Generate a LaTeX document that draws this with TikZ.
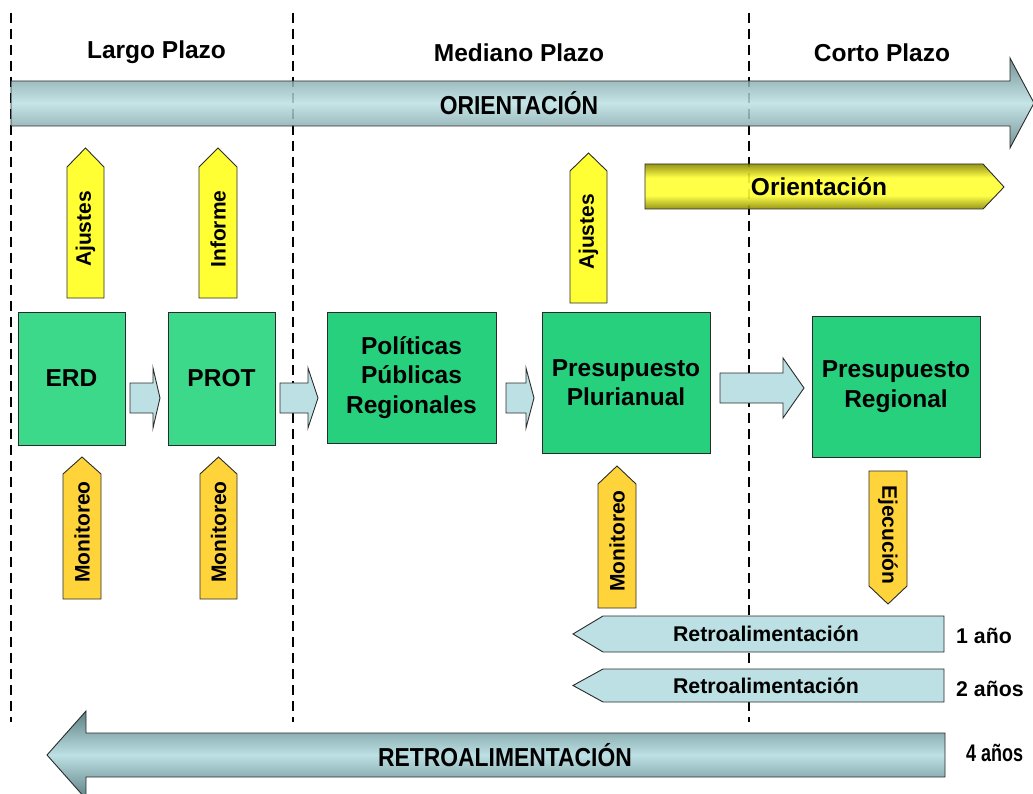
\documentclass[tikz,border=0pt]{standalone}
\usepackage{fontspec}
\usepackage{graphicx}
\setmainfont{Liberation Sans}
\definecolor{lblue}{HTML}{BCE0E3}
\definecolor{dblue}{HTML}{5D8083}
\definecolor{grnA}{HTML}{3DD98A}
\definecolor{grnB}{HTML}{26D07C}
\definecolor{yel}{HTML}{FFFF33}
\definecolor{gold}{HTML}{FFD43B}
\definecolor{olivedk}{HTML}{8A8A00}
\definecolor{edge}{HTML}{2B2B2B}
\pgfdeclareverticalshading{yelshade}{100bp}{color(0bp)=(olivedk); color(25bp)=(olivedk); color(40bp)=(yel); color(60bp)=(yel); color(75bp)=(olivedk); color(100bp)=(olivedk)}
\begin{document}
\begin{tikzpicture}[x=1pt,y=-1pt,
  outl/.style={draw=edge, line width=0.9pt, line join=miter},
  bigarrow/.style={outl, top color=dblue, bottom color=dblue, middle color=lblue},
  flatarrow/.style={outl, fill=lblue},
  yelarrow/.style={outl, fill=yel},
  goldarrow/.style={outl, fill=gold},
  boxA/.style={outl, fill=grnA, align=center, inner sep=0pt, font=\fontsize{24.5}{30}\selectfont\bfseries},
  boxB/.style={outl, fill=grnB, align=center, inner sep=0pt, font=\fontsize{24.5}{29.5}\selectfont\bfseries},
  hdr/.style={font=\fontsize{24.5}{28}\selectfont\bfseries},
  vtxt/.style={font=\fontsize{21}{24}\selectfont\bfseries, inner sep=0pt},
  rtxt/.style={font=\fontsize{21.3}{24}\selectfont\bfseries, inner sep=0pt},
  bigtxt/.style={font=\fontsize{26}{30}\selectfont\bfseries, inner sep=0pt},
  dashln/.style={draw=black, line width=1.1pt, dash pattern=on 10pt off 6pt}
]
\useasboundingbox (0,0) rectangle (1033,794);

% dashed separators (behind the shapes)
\draw[dashln] (11,13) -- (11,722);
\draw[dashln] (293,13) -- (293,722);
\draw[dashln] (749,13) -- (749,722);

% headers
\node[hdr] (hLargo) at (156.5,52) {Largo Plazo};
\node[hdr] (hMed) at (519,53) {Mediano Plazo};
\node[hdr] (hCorto) at (882,53) {Corto Plazo};

% big ORIENTACION arrow
\path[bigarrow, fill opacity=0.85] (11,81) -- (1010,81) -- (1010,58) -- (1034,103) -- (1010,148) -- (1010,126) -- (11,126) -- cycle;

% yellow Orientacion arrow
\path[outl, shading=yelshade, fill opacity=0.9]
  (645,164) -- (983,164) -- (1004,187) -- (983,209) -- (645,209) -- cycle;

% up arrows (yellow)
\path[yelarrow] (67,298) -- (67,167) -- (85.5,148) -- (104,167) -- (104,298) -- cycle;
\path[yelarrow] (199,298) -- (199,167) -- (218,148) -- (237,167) -- (237,298) -- cycle;
\path[yelarrow] (570,303) -- (570,171) -- (588.5,153) -- (607,171) -- (607,303) -- cycle;

% green boxes
\node[boxA, minimum width=107pt, minimum height=133pt] (erd) at (71.5,378.5) {ERD};
\node[boxA, minimum width=107pt, minimum height=133pt] (prot) at (221.5,378.5) {PROT};
\node[boxB, minimum width=169pt, minimum height=131pt] (pol) at (411.5,377.5) {Políticas\\Públicas\\Regionales};
\node[boxB, minimum width=168pt, minimum height=141pt] (plur) at (626,382.5) {Presupuesto\\Plurianual};
\node[boxB, minimum width=168pt, minimum height=141pt] (reg) at (896,386.5) {Presupuesto\\Regional};

% block arrows between boxes
\path[flatarrow] (130,383) -- (153,383) -- (153,368) -- (160,398) -- (153,428) -- (153,413) -- (130,413) -- cycle;
\path[flatarrow] (280,383) -- (308,383) -- (308,368) -- (318,398) -- (308,428) -- (308,413) -- (280,413) -- cycle;
\path[flatarrow] (506,383) -- (526,383) -- (526,368) -- (534,398) -- (526,428) -- (526,413) -- (506,413) -- cycle;
\path[flatarrow] (720,373) -- (783,373) -- (783,358) -- (804,388) -- (783,418) -- (783,403) -- (720,403) -- cycle;

% gold arrows
\path[goldarrow] (63,599) -- (63,474) -- (82,457) -- (101,474) -- (101,599) -- cycle;
\path[goldarrow] (200,599) -- (200,474) -- (218.5,457) -- (237,474) -- (237,599) -- cycle;
\path[goldarrow] (598,608) -- (598,484) -- (617,466) -- (636,484) -- (636,608) -- cycle;
\path[goldarrow] (869,471) -- (907,471) -- (907,586) -- (888,604) -- (869,586) -- cycle;

% retro arrows
\path[flatarrow] (944,616) -- (603,616) -- (573,634) -- (603,652) -- (944,652) -- cycle;
\path[flatarrow] (944,669) -- (603,669) -- (573,685.5) -- (603,702) -- (944,702) -- cycle;

% big RETRO arrow
\path[bigarrow] (945,733) -- (86,733) -- (86,711) -- (47,755) -- (86,799) -- (86,777) -- (945,777) -- cycle;

% texts
\node[bigtxt] (tOr) at (519,103) {\scalebox{0.88}[1]{ORIENTACIÓN}};
\node[font=\fontsize{24.5}{28}\selectfont\bfseries, inner sep=0pt] (tOr2) at (819,187) {Orientación};
\node[vtxt, rotate=90] (tAj1) at (85.5,229) {Ajustes};
\node[vtxt, rotate=90] (tInf) at (218,229) {Informe};
\node[vtxt, rotate=90] (tAj2) at (588.5,232) {Ajustes};
\node[vtxt, rotate=90] (tMo1) at (82,532) {Monitoreo};
\node[vtxt, rotate=90] (tMo2) at (218.5,532) {Monitoreo};
\node[vtxt, rotate=90] (tMo3) at (617,541) {Monitoreo};
\node[vtxt, rotate=-90] (tEj) at (888,535) {Ejecución};
\node[rtxt] (tR1) at (766,634) {Retroalimentación};
\node[rtxt] (tR2) at (766,686) {Retroalimentación};
\node[rtxt, anchor=west] (y1) at (956,636) {1 año};
\node[rtxt, anchor=west] (y2) at (956,689) {2 años};
\node[bigtxt] (tRet) at (505,755) {\scalebox{0.88}[1]{RETROALIMENTACIÓN}};
\node[font=\fontsize{24}{26}\selectfont\bfseries, inner sep=0pt, anchor=west] (y4) at (966,753) {\scalebox{0.75}[1]{4 años}};
\end{tikzpicture}
\end{document}
